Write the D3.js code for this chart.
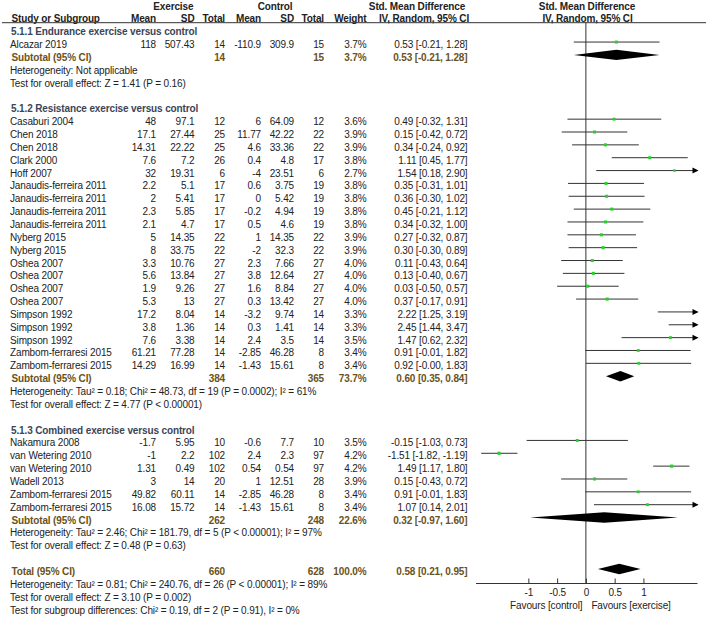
<!DOCTYPE html>
<html><head><meta charset="utf-8">
<script src="https://cdn.jsdelivr.net/npm/d3@7"></script>
<style>
html,body{margin:0;padding:0;background:#fff;}
text{font-family:"Liberation Sans",Arial,sans-serif;font-size:10px;fill:#222;letter-spacing:-0.13px;}
</style></head>
<body><svg id="c" width="708" height="617"></svg>
<script>
// ---------- DATA ----------
const groupTitles = ["5.1.1 Endurance exercise versus control","5.1.2 Resistance exercise versus control","5.1.3 Combined exercise versus control"];
const studyGroup = [0, 1,1,1,1,1,1,1,1,1,1,1,1,1,1,1,1,1,1,1,1, 2,2,2,2,2,2];
const studyNames = ["Alcazar 2019",
 "Casaburi 2004","Chen 2018","Chen 2018","Clark 2000","Hoff 2007","Janaudis-ferreira 2011","Janaudis-ferreira 2011","Janaudis-ferreira 2011","Janaudis-ferreira 2011","Nyberg 2015","Nyberg 2015","Oshea 2007","Oshea 2007","Oshea 2007","Oshea 2007","Simpson 1992","Simpson 1992","Simpson 1992","Zambom-ferraresi 2015","Zambom-ferraresi 2015",
 "Nakamura 2008","van Wetering 2010","van Wetering 2010","Wadell 2013","Zambom-ferraresi 2015","Zambom-ferraresi 2015"];
const expMean = [118, 48,17.1,14.31,7.6,32,2.2,2,2.3,2.1,5,8,3.3,5.6,1.9,5.3,17.2,3.8,7.6,61.21,14.29, -1.7,-1,1.31,3,49.82,16.08];
const expSD = [507.43, 97.1,27.44,22.22,7.2,19.31,5.1,5.41,5.85,4.7,14.35,33.75,10.76,13.84,9.26,13,8.04,1.36,3.38,77.28,16.99, 5.95,2.2,0.49,14,60.11,15.72];
const expTotal = [14, 12,25,25,26,6,17,17,17,17,22,22,27,27,27,27,14,14,14,14,14, 10,102,102,20,14,14];
const ctlMean = [-110.9, 6,11.77,4.6,0.4,-4,0.6,0,-0.2,0.5,1,-2,2.3,3.8,1.6,0.3,-3.2,0.3,2.4,-2.85,-1.43, -0.6,2.4,0.54,1,-2.85,-1.43];
const ctlSD = [309.9, 64.09,42.22,33.36,4.8,23.51,3.75,5.42,4.94,4.6,14.35,32.3,7.66,12.64,8.84,13.42,9.74,1.41,3.5,46.28,15.61, 7.7,2.3,0.54,12.51,46.28,15.61];
const ctlTotal = [15, 12,22,22,17,6,19,19,19,19,22,22,27,27,27,27,14,14,14,8,8, 10,97,97,28,8,8];
const weights = [3.7, 3.6,3.9,3.9,3.8,2.7,3.8,3.8,3.8,3.8,3.9,3.9,4.0,4.0,4.0,4.0,3.3,3.3,3.5,3.4,3.4, 3.5,4.2,4.2,3.9,3.4,3.4];
const smd = [0.53, 0.49,0.15,0.34,1.11,1.54,0.35,0.36,0.45,0.34,0.27,0.30,0.11,0.13,0.03,0.37,2.22,2.45,1.47,0.91,0.92, -0.15,-1.51,1.49,0.15,0.91,1.07];
const ciLow = [-0.21, -0.32,-0.42,-0.24,0.45,0.18,-0.31,-0.30,-0.21,-0.32,-0.32,-0.30,-0.43,-0.40,-0.50,-0.17,1.25,1.44,0.62,-0.01,-0, -1.03,-1.82,1.17,-0.43,-0.01,0.14];
const ciHigh = [1.28, 1.31,0.72,0.92,1.77,2.90,1.01,1.02,1.12,1.00,0.87,0.89,0.64,0.67,0.57,0.91,3.19,3.47,2.32,1.82,1.83, 0.73,-1.19,1.80,0.72,1.83,2.01];

const subExpTotal = [14, 384, 262];
const subCtlTotal = [15, 365, 248];
const subWeight = [3.7, 73.7, 22.6];
const subSmd = [0.53, 0.60, 0.32];
const subLow = [-0.21, 0.35, -0.97];
const subHigh = [1.28, 0.84, 1.60];
const subHet = ["Heterogeneity: Not applicable",
 "Heterogeneity: Tau\u00b2 = 0.18; Chi\u00b2 = 48.73, df = 19 (P = 0.0002); I\u00b2 = 61%",
 "Heterogeneity: Tau\u00b2 = 2.46; Chi\u00b2 = 181.79, df = 5 (P < 0.00001); I\u00b2 = 97%"];
const subTest = ["Test for overall effect: Z = 1.41 (P = 0.16)",
 "Test for overall effect: Z = 4.77 (P < 0.00001)",
 "Test for overall effect: Z = 0.48 (P = 0.63)"];

const totalExp = 660, totalCtl = 628, totalWeight = 100.0;
const totalSmd = 0.58, totalLow = 0.21, totalHigh = 0.95;
const totalNotes = ["Heterogeneity: Tau\u00b2 = 0.81; Chi\u00b2 = 240.76, df = 26 (P < 0.00001); I\u00b2 = 89%",
 "Test for overall effect: Z = 3.10 (P = 0.002)",
 "Test for subgroup differences: Chi\u00b2 = 0.19, df = 2 (P = 0.91), I\u00b2 = 0%"];

const axisTicks = [-1, -0.5, 0, 0.5, 1];
const axisTickLabels = ["-1", "-0.5", "0", "0.5", "1"];
const favoursLeft = "Favours [control]", favoursRight = "Favours [exercise]";

// ---------- LAYOUT ----------
const svg = d3.select("#c");
const rowY = d3.scaleLinear().domain([0, 47]).range([6, 610]);
const x = d3.scaleLinear().domain([-1.91, 1.94]).range([476, 697.5]);
const PLOT_OFF = -2.5;
const col = {name:10, eMean:156, eSD:194.5, eTot:225, cMean:261, cSD:294, cTot:324, w:366.5, ci:467.5};
const HEAD_COL = "#3a4658", SUB_COL = "#6a5220";

function fmt2(v){ return (Object.is(v,-0) ? "-" : "") + v.toFixed(2); }
function ciStr(m,l,h){ return fmt2(m) + " [" + fmt2(l) + ", " + fmt2(h) + "]"; }

function txt(xp, row, s, opts={}){
  const t = svg.append("text").attr("x", xp).attr("y", rowY(row)).attr("dominant-baseline","central")
    .attr("text-anchor", opts.anchor || "start").text(s);
  if (opts.bold) t.attr("font-weight","bold");
  if (opts.fill) t.style("fill", opts.fill);
  return t;
}

// header
txt(173.3, 0, "Exercise", {anchor:"middle", bold:true});
txt(275, 0, "Control", {anchor:"middle", bold:true});
txt(417, 0, "Std. Mean Difference", {anchor:"middle", bold:true});
txt(587, 0, "Std. Mean Difference", {anchor:"middle", bold:true});
txt(11.5, 1, "Study or Subgroup", {bold:true});
txt(col.eMean, 1, "Mean", {anchor:"end", bold:true});
txt(col.eSD, 1, "SD", {anchor:"end", bold:true});
txt(col.eTot, 1, "Total", {anchor:"end", bold:true});
txt(col.cMean, 1, "Mean", {anchor:"end", bold:true});
txt(col.cSD, 1, "SD", {anchor:"end", bold:true});
txt(col.cTot, 1, "Total", {anchor:"end", bold:true});
txt(col.w, 1, "Weight", {anchor:"end", bold:true});
txt(424, 1, "IV, Random, 95% CI", {anchor:"middle", bold:true});
txt(587.5, 1, "IV, Random, 95% CI", {anchor:"middle", bold:true});
svg.append("line").attr("x1",2).attr("x2",706).attr("y1",22.7).attr("y2",22.7).attr("stroke","#333").attr("stroke-width",1);

// zero line
svg.append("line").attr("x1",x(0)).attr("x2",x(0)).attr("y1",22.7).attr("y2",583.5).attr("stroke","#333").attr("stroke-width",1);

const plotG = svg.append("g");
function drawDiamond(row, m, l, h){
  const yc = rowY(row) + PLOT_OFF, hh = 5.2;
  plotG.append("path").attr("d", `M${x(l)},${yc} L${x(m)},${yc-hh} L${x(h)},${yc} L${x(m)},${yc+hh} Z`).attr("fill","#000");
}
function drawStudy(row, i){
  const yc = rowY(row) + PLOT_OFF;
  const [d0,d1] = x.domain();
  const lo = Math.max(ciLow[i], d0), hi = Math.min(ciHigh[i], d1);
  plotG.append("line").attr("x1", x(lo)).attr("x2", x(hi)).attr("y1", yc).attr("y2", yc).attr("stroke","#333").attr("stroke-width",1);
  if (ciHigh[i] > d1){
    const xe = x(d1);
    plotG.append("path").attr("d", `M${xe-5},${yc-3} L${xe+1},${yc} L${xe-5},${yc+3} Z`).attr("fill","#000");
  }
  if (ciLow[i] < d0){
    const xe = x(d0);
    plotG.append("path").attr("d", `M${xe+5},${yc-3} L${xe-1},${yc} L${xe+5},${yc+3} Z`).attr("fill","#000");
  }
  if (smd[i] >= d0 && smd[i] <= d1){
    const s = 1.55 * Math.sqrt(weights[i]);
    plotG.append("rect").attr("x", x(smd[i]) - s/2).attr("y", yc - s/2).attr("width", s).attr("height", s).attr("fill","#2ad02a");
  }
}

let row = 2;
groupTitles.forEach((title, g) => {
  txt(11, row, title, {bold:true, fill:HEAD_COL});
  row++;
  studyNames.forEach((nm, i) => {
    if (studyGroup[i] !== g) return;
    txt(col.name, row, nm);
    txt(col.eMean, row, String(expMean[i]), {anchor:"end"});
    txt(col.eSD, row, String(expSD[i]), {anchor:"end"});
    txt(col.eTot, row, String(expTotal[i]), {anchor:"end"});
    txt(col.cMean, row, String(ctlMean[i]), {anchor:"end"});
    txt(col.cSD, row, String(ctlSD[i]), {anchor:"end"});
    txt(col.cTot, row, String(ctlTotal[i]), {anchor:"end"});
    txt(col.w, row, weights[i].toFixed(1) + "%", {anchor:"end"});
    txt(col.ci, row, ciStr(smd[i], ciLow[i], ciHigh[i]), {anchor:"end"});
    drawStudy(row, i);
    row++;
  });
  txt(11.5, row, "Subtotal (95% CI)", {bold:true, fill:SUB_COL});
  txt(col.eTot, row, String(subExpTotal[g]), {anchor:"end", bold:true, fill:SUB_COL});
  txt(col.cTot, row, String(subCtlTotal[g]), {anchor:"end", bold:true, fill:SUB_COL});
  txt(col.w, row, subWeight[g].toFixed(1) + "%", {anchor:"end", bold:true, fill:SUB_COL});
  txt(col.ci, row, ciStr(subSmd[g], subLow[g], subHigh[g]), {anchor:"end", bold:true, fill:SUB_COL});
  drawDiamond(row, subSmd[g], subLow[g], subHigh[g]);
  row++;
  txt(col.name, row, subHet[g]); row++;
  txt(col.name, row, subTest[g]); row++;
  row++; // blank
});

// total
txt(11.5, row, "Total (95% CI)", {bold:true, fill:SUB_COL});
txt(col.eTot, row, String(totalExp), {anchor:"end", bold:true, fill:SUB_COL});
txt(col.cTot, row, String(totalCtl), {anchor:"end", bold:true, fill:SUB_COL});
txt(col.w, row, totalWeight.toFixed(1) + "%", {anchor:"end", bold:true, fill:SUB_COL});
txt(col.ci, row, ciStr(totalSmd, totalLow, totalHigh), {anchor:"end", bold:true, fill:SUB_COL});
drawDiamond(row, totalSmd, totalLow, totalHigh);
row++;
totalNotes.forEach(n => { txt(col.name, row, n); row++; });

// axis
const axisY = 583.5;
const axis = d3.axisTop(x).tickValues(axisTicks).tickSize(5).tickFormat((d,i) => axisTickLabels[i]);
const ag = svg.append("g").attr("transform", `translate(0,${axisY})`).call(axis);
ag.select(".domain").attr("d", `M${x.range()[0]},0H${x.range()[1]}`).attr("stroke","#333");
ag.selectAll(".tick line").attr("stroke","#333");
ag.selectAll(".tick text").attr("y", 9).attr("dy", null).attr("dominant-baseline","central")
  .style("font-family","\"Liberation Sans\",Arial,sans-serif").style("font-size","10px").style("fill","#222");
svg.append("text").attr("x", x(0) - 3.5).attr("y", 605).attr("dominant-baseline","central").attr("text-anchor","end").text(favoursLeft);
svg.append("text").attr("x", x(0) + 5.5).attr("y", 605).attr("dominant-baseline","central").attr("text-anchor","start").text(favoursRight);
</script></body></html>
